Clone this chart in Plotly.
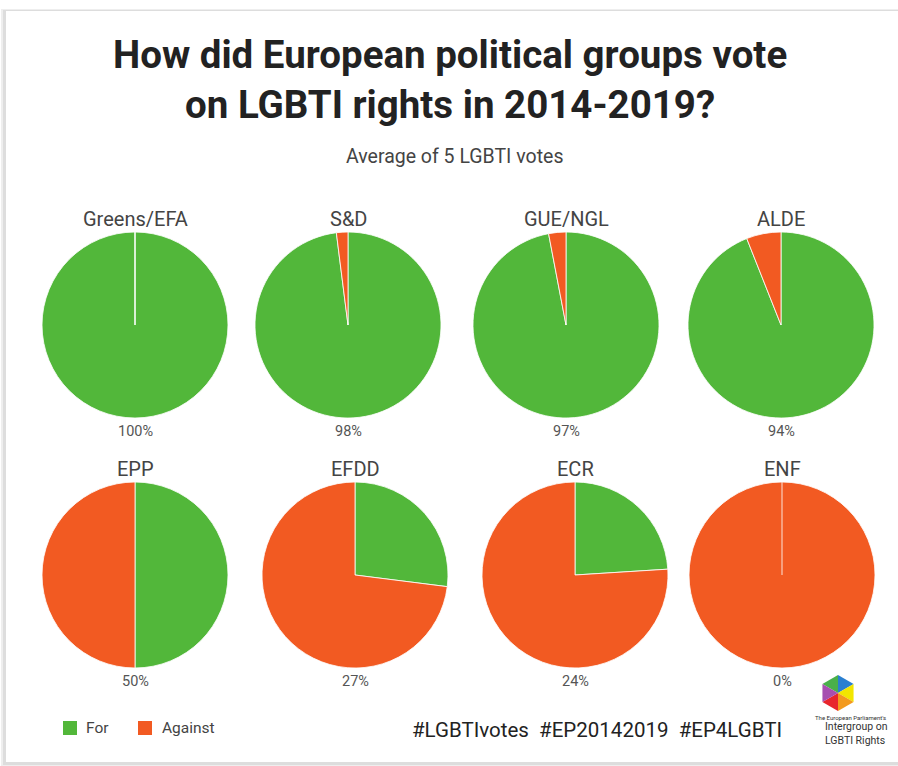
import math
import plotly.graph_objects as go

# ---- data ----
groups = ["Greens/EFA", "S&D", "GUE/NGL", "ALDE", "EPP", "EFDD", "ECR", "ENF"]
for_pct = [100, 98, 97, 94, 50, 27, 24, 0]
against_pct = [0, 2, 3, 6, 50, 73, 76, 100]
slice_labels = ["For", "Against"]
hashtags = ["#LGBTIvotes", "#EP20142019", "#EP4LGBTI"]

# ---- layout constants (pixels) ----
W, H = 898, 766
GREEN = "#52b73a"
ORANGE = "#f25a22"
SLICE_COLORS = [GREEN, ORANGE]
FONT = "Roboto"
centers = [(135, 325), (348, 325), (566, 325), (781, 325),
           (135, 575), (355, 575), (575, 575), (782, 575)]
R = 93
legend_pos = [(70, 160), (145, 238)]  # (square centre x, text left x)
LEG_Y = 728


def px(x):
    return x / W


def py(y):
    return 1 - y / H


fig = go.Figure()
shapes = []
annotations = []

for i, g in enumerate(groups):
    cx, cy = centers[i]
    fig.add_trace(go.Pie(
        labels=slice_labels,
        values=[for_pct[i], against_pct[i]],
        domain=dict(x=[px(cx - R), px(cx + R)], y=[py(cy + R), py(cy - R)]),
        sort=False, direction="clockwise", rotation=0,
        marker=dict(colors=SLICE_COLORS, line=dict(color="rgba(255,255,255,0.8)", width=1)),
        textinfo="none", hoverinfo="label+percent",
        showlegend=False, name=g,
    ))
    # separator line at 12 o'clock for full single-colour pies
    if for_pct[i] == 0 or against_pct[i] == 0:
        shapes.append(dict(type="line", xref="paper", yref="paper",
                           x0=px(cx), x1=px(cx), y0=py(cy), y1=py(cy - R),
                           line=dict(color="rgba(255,255,255,0.7)", width=1.2), layer="above"))
    annotations.append(dict(text=g, x=px(cx), y=py(cy - R - 13), xref="paper", yref="paper",
                            showarrow=False, xanchor="center", yanchor="middle",
                            font=dict(family=FONT, size=20, color="#444444")))
    annotations.append(dict(text=f"{for_pct[i]}%", x=px(cx), y=py(cy + R + 13), xref="paper", yref="paper",
                            showarrow=False, xanchor="center", yanchor="middle",
                            font=dict(family=FONT, size=14.5, color="#555555")))

# manual legend
text_left = [84, 160]
for k, lab in enumerate(slice_labels):
    sx = legend_pos[k][0]
    shapes.append(dict(type="rect", xref="paper", yref="paper",
                       x0=px(sx - 7), x1=px(sx + 7), y0=py(LEG_Y + 7), y1=py(LEG_Y - 7),
                       fillcolor=SLICE_COLORS[k], line=dict(width=0)))
    annotations.append(dict(text=lab, x=px(text_left[k]), y=py(LEG_Y), xref="paper", yref="paper",
                            showarrow=False, xanchor="left", yanchor="middle",
                            font=dict(family=FONT, size=15.5, color="#444444")))

# Title & subtitle
annotations.append(dict(text="<b>How did European political groups vote</b>", x=px(450), y=py(55),
                        xref="paper", yref="paper", showarrow=False, xanchor="center", yanchor="middle",
                        font=dict(family=FONT, size=38.5, color="#222222")))
annotations.append(dict(text="<b>on LGBTI rights in 2014-2019?</b>", x=px(450), y=py(105),
                        xref="paper", yref="paper", showarrow=False, xanchor="center", yanchor="middle",
                        font=dict(family=FONT, size=38.5, color="#222222")))
annotations.append(dict(text="Average of 5 LGBTI votes", x=px(454), y=py(157),
                        xref="paper", yref="paper", showarrow=False, xanchor="center", yanchor="middle",
                        font=dict(family=FONT, size=19.5, color="#444444")))
# hashtags
annotations.append(dict(text="\u00a0\u00a0".join(hashtags), x=px(597), y=py(730),
                        xref="paper", yref="paper", showarrow=False, xanchor="center", yanchor="middle",
                        font=dict(family=FONT, size=20.5, color="#222222")))
# logo text
annotations.append(dict(text="The European Parliament's", x=px(850), y=py(717),
                        xref="paper", yref="paper", showarrow=False, xanchor="center", yanchor="middle",
                        font=dict(family=FONT, size=6, color="#333333")))
annotations.append(dict(text="Intergroup on<br>LGBTI Rights", x=px(823), y=py(733), align="left",
                        xref="paper", yref="paper", showarrow=False, xanchor="left", yanchor="middle",
                        font=dict(family=FONT, size=10.5, color="#333333")))

# logo hexagon
hx, hy, hr = 838, 693, 18
hex_colors = ["#4ab04a", "#2a7fd0", "#f2e600", "#f39a1e", "#e8262d", "#a74fb0"]
verts = []
for k in range(6):
    a = math.radians(90 - 60 * k)
    verts.append((hx + hr * math.cos(a), hy - hr * math.sin(a)))
for k in range(6):
    v1 = verts[(k + 5) % 6]
    v2 = verts[k]
    path = f"M{px(hx)},{py(hy)} L{px(v1[0])},{py(v1[1])} L{px(v2[0])},{py(v2[1])} Z"
    shapes.append(dict(type="path", xref="paper", yref="paper", path=path,
                       fillcolor=hex_colors[k], line=dict(width=0), layer="above"))

# card with faint shadow
shapes.insert(0, dict(type="rect", xref="paper", yref="paper", x0=px(1), x1=px(905), y0=py(766), y1=py(9),
                      fillcolor="#eeeeee", line=dict(width=0), layer="below"))
shapes.insert(1, dict(type="rect", xref="paper", yref="paper", x0=px(3), x1=px(905), y0=py(765), y1=py(10),
                      fillcolor="#dddddd", line=dict(width=0), layer="below"))
shapes.insert(2, dict(type="rect", xref="paper", yref="paper", x0=px(6), x1=px(905), y0=py(762), y1=py(11),
                      fillcolor="#ffffff", line=dict(width=0), layer="below"))

fig.update_layout(
    width=W, height=H,
    margin=dict(l=0, r=0, t=0, b=0),
    paper_bgcolor="#ffffff",
    plot_bgcolor="#ffffff",
    shapes=shapes,
    annotations=annotations,
    showlegend=False,
    font=dict(family=FONT),
)

fig.write_html("out.html")
